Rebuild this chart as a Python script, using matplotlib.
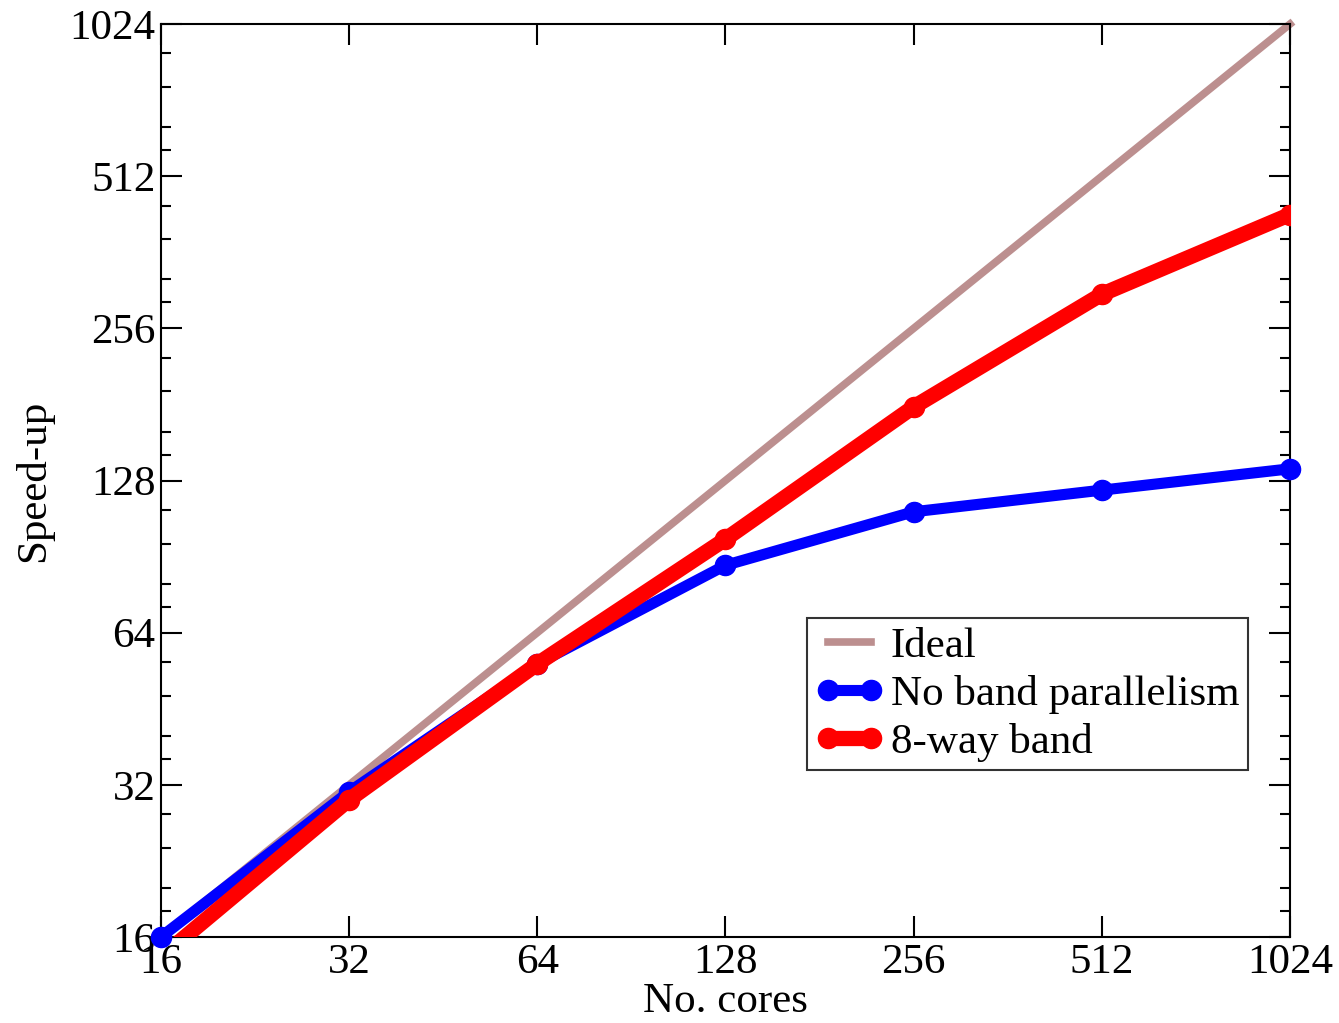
import matplotlib
matplotlib.use("Agg")
import matplotlib.pyplot as plt
from matplotlib.ticker import FixedLocator, NullFormatter

plt.rcParams["font.family"] = ["Liberation Serif", "DejaVu Serif"]

# --- data ---
cores = [16, 32, 64, 128, 256, 512, 1024]
ideal = [16, 32, 64, 128, 256, 512, 1024]
no_band = [16, 31, 55.5, 87, 111, 122.5, 135]
band8 = [14.6, 29.9, 55.5, 98, 179, 299, 430]

ticks = [16, 32, 64, 128, 256, 512, 1024]
tick_labels = ["16", "32", "64", "128", "256", "512", "1024"]
minor_fracs = [1.125, 1.25, 1.5, 1.75]

fig = plt.figure(figsize=(13.39, 10.23), dpi=100)
ax = fig.add_axes([0.1202, 0.0841, 0.8432, 0.8924])

ax.plot(cores, ideal, color="#bc8f8f", lw=5.5, label="Ideal",
        solid_capstyle="projecting", clip_on=False, zorder=2)
ax.plot(cores, no_band, color="#0000ff", lw=8, marker="o", ms=14.5,
        label="No band parallelism", clip_on=False, zorder=3)
ax.plot(cores, band8, color="#ff0000", lw=11, marker="o", ms=14.5,
        label="8-way band", zorder=4)

ax.set_xscale("log", base=2)
ax.set_yscale("log", base=2)
ax.set_xlim(16, 1024)
ax.set_ylim(16, 1024)

ax.xaxis.set_major_locator(FixedLocator(ticks))
ax.yaxis.set_major_locator(FixedLocator(ticks))
ax.set_xticklabels(tick_labels)
ax.set_yticklabels(tick_labels)
ax.xaxis.set_minor_locator(FixedLocator([]))
minors = [t * f for t in ticks[:-1] for f in minor_fracs]
ax.yaxis.set_minor_locator(FixedLocator(minors))
ax.yaxis.set_minor_formatter(NullFormatter())

ax.tick_params(which="both", direction="in", top=True, right=True,
               labelsize=31, width=1.5, pad=4)
ax.tick_params(which="major", length=15)
ax.tick_params(which="minor", length=7.5)
ax.tick_params(axis="x", pad=5)
for s in ax.spines.values():
    s.set_linewidth(1.5)

ax.set_xlabel("No. cores", fontsize=31, labelpad=0)
ax.set_ylabel("Speed-up", fontsize=31, labelpad=12)

leg = ax.legend(loc="upper left", bbox_to_anchor=(0.572, 0.349),
                fontsize=31, frameon=True, fancybox=False, edgecolor="black",
                numpoints=2, handlelength=1.6, handletextpad=0.15,
                borderpad=0.2, labelspacing=0.2, borderaxespad=0)
leg.get_frame().set_linewidth(1.5)

fig.savefig("out.png", dpi=100)
